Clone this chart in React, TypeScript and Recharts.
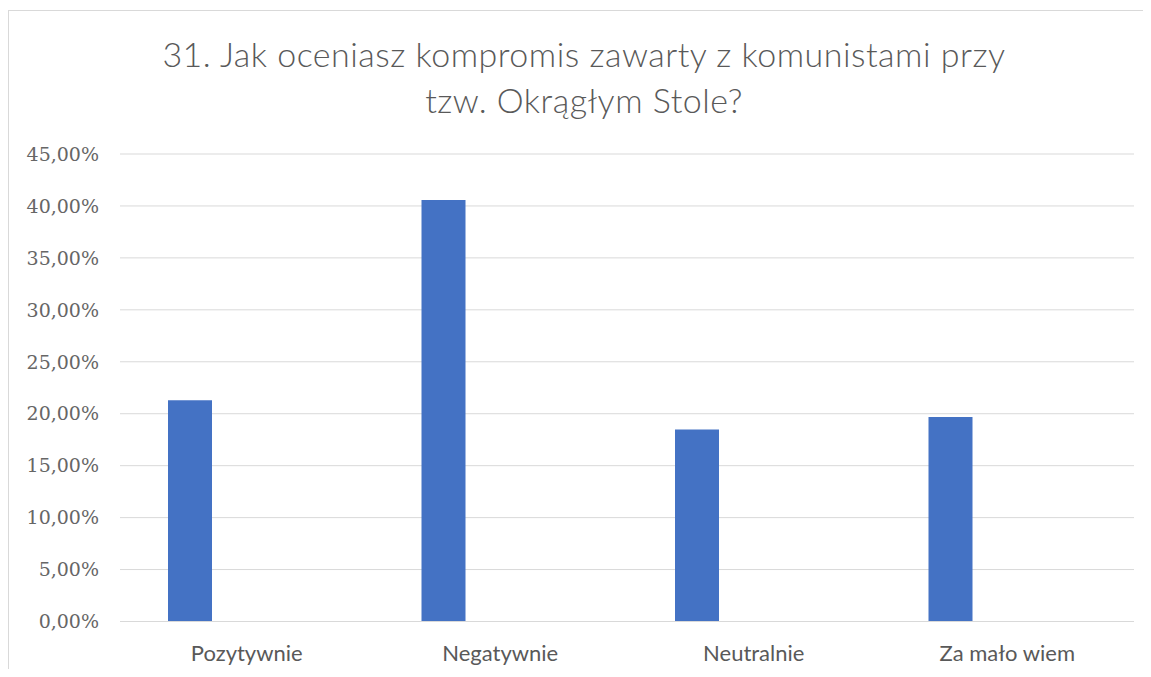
import React from "react";
import { BarChart, Bar, XAxis, YAxis, CartesianGrid } from "recharts";

const categories = ["Pozytywnie", "Negatywnie", "Neutralnie", "Za mało wiem"];
const seriesValues = [0.2129, 0.4057, 0.1848, 0.1969];
const emptySeries: (number | null)[] = [null, null, null, null];
const yTicks = [0, 0.05, 0.1, 0.15, 0.2, 0.25, 0.3, 0.35, 0.4, 0.45];
const titleLines = ["31. Jak oceniasz kompromis zawarty z komunistami przy", "tzw. Okrągłym Stole?"];

const data = categories.map((c, i) => ({ name: c, value: seriesValues[i], empty: emptySeries[i] }));

const fmt = (v: number) => (v * 100).toFixed(2).replace(".", ",") + "%";

export default function App() {
  return (
    <div
      style={{
        position: "relative",
        width: 1143,
        height: 659,
        marginTop: 2,
        borderTop: "1px solid #d9d9d9",
        borderLeft: "1px solid #d9d9d9",
        boxSizing: "border-box",
        background: "#fff",
        overflow: "hidden",
      }}
    >
      <BarChart
        width={1142}
        height={658}
        data={data}
        margin={{ top: 143, right: 17, bottom: 2.5, left: 0 }}
        barGap={69.6}
        barSize={44}
      >
        <CartesianGrid vertical={false} stroke="#d9d9d9" strokeWidth={1} />
        <XAxis
          dataKey="name"
          axisLine={{ stroke: "#d9d9d9" }}
          tickLine={false}
          tickSize={0}
          tickMargin={24}
          height={45}
          tick={{ fill: "#595959", fontFamily: "Lato", fontSize: 22 }}
        />
        <YAxis
          domain={[0, 0.45]}
          ticks={yTicks}
          tickFormatter={fmt}
          axisLine={false}
          tickLine={false}
          tickSize={0}
          tickMargin={21}
          width={111}
          tick={{ fill: "#666666", fontFamily: "DejaVu Serif", fontSize: 19 }}
          interval={0}
        />
        <Bar dataKey="value" fill="#4472c4" isAnimationActive={false} />
        <Bar dataKey="empty" fill="#ed7d31" isAnimationActive={false} />
      </BarChart>
      <svg
        width={1142}
        height={130}
        style={{ position: "absolute", left: 0, top: 0, pointerEvents: "none" }}
      >
        <text x={575} y={56} textAnchor="middle" fontFamily="Lato" fontWeight={300} fontSize={34} letterSpacing={0.5} fill="#595959">
          {titleLines[0]}
        </text>
        <text x={575} y={102} textAnchor="middle" fontFamily="Lato" fontWeight={300} fontSize={34} letterSpacing={0.5} fill="#595959">
          {titleLines[1]}
        </text>
      </svg>
    </div>
  );
}
